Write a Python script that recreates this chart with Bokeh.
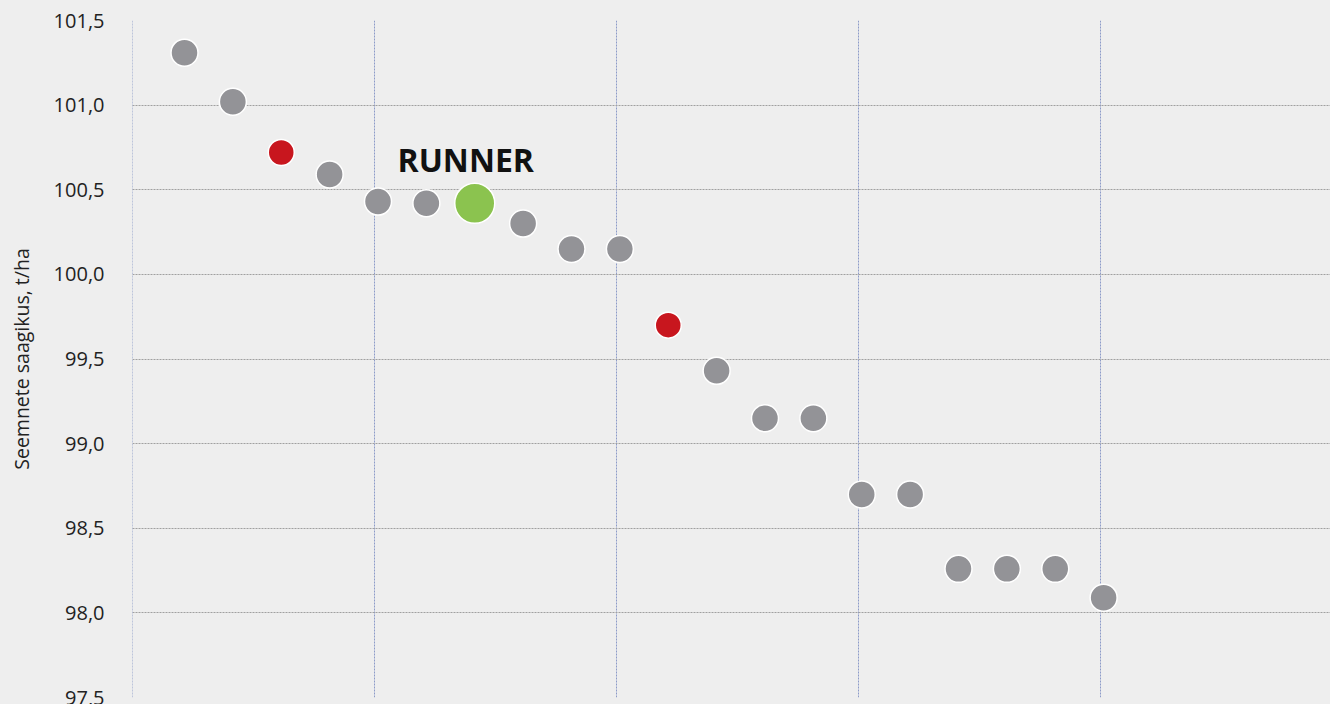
from bokeh.plotting import figure
from bokeh.models import ColumnDataSource, FixedTicker, CustomJSTickFormatter, Range1d
from bokeh.core.properties import value
from bokeh.embed import file_html
from bokeh.resources import INLINE

# ---- data ----
positions = list(range(1, 21))
yields = [101.31, 101.02, 100.72, 100.59, 100.43, 100.42, 100.42, 100.30, 100.15, 100.15,
          99.70, 99.43, 99.15, 99.15, 98.70, 98.70, 98.26, 98.26, 98.26, 98.09]
kinds = ["other", "other", "check", "other", "other", "other", "runner", "other", "other", "other",
         "check", "other", "other", "other", "other", "other", "other", "other", "other", "other"]
highlight_label = "RUNNER"
y_ticks = [97.5, 98.0, 98.5, 99.0, 99.5, 100.0, 100.5, 101.0, 101.5]
y_label = "Seemnete saagikus, t/ha"

# ---- styles ----
color_map = {"other": "#939397", "check": "#c8161e", "runner": "#8bc34f"}
size_map = {"other": 27, "check": 26, "runner": 40}
BG = "#eeeeee"
FONT = "Open Sans"

src = ColumnDataSource(dict(
    x=positions, y=yields,
    color=[color_map[k] for k in kinds],
    size=[size_map[k] for k in kinds],
))

p = figure(width=1330, height=704, output_backend="svg", toolbar_location=None,
           x_range=Range1d(-0.075, 24.69), y_range=Range1d(97.5, 101.5),
           min_border_left=132, min_border_right=0, min_border_top=20, min_border_bottom=7)
p.background_fill_color = BG
p.border_fill_color = BG
p.outline_line_color = None

p.scatter("x", "y", source=src, size="size", fill_color="color",
          line_color="white", line_width=1.5)

ri = kinds.index("runner")
p.text(x=[positions[ri]], y=[yields[ri]], text=[highlight_label],
       text_font=value(FONT), text_font_style="bold", text_font_size="32px",
       text_align="center", text_baseline="alphabetic", text_color="#111111",
       x_offset=-9, y_offset=-44)

# axes
p.xaxis.visible = False
p.xgrid.ticker = FixedTicker(ticks=[t - 0.07 for t in [0, 5, 10, 15, 20]])
p.xgrid.grid_line_color = "#8c9bc8"
p.xgrid.grid_line_dash = "2 1"
p.xgrid.grid_line_width = 1

yax = p.yaxis[0]
yax.ticker = FixedTicker(ticks=y_ticks)
yax.formatter = CustomJSTickFormatter(code="return tick.toFixed(1).replace('.', ',');")
yax.axis_line_color = None
yax.major_tick_line_color = None
yax.minor_tick_line_color = None
yax.major_tick_in = 0
yax.major_tick_out = 0
yax.major_label_standoff = 28
yax.major_label_text_font = FONT
yax.major_label_text_font_size = "20px"
yax.major_label_text_color = "#222222"
yax.axis_label = y_label
yax.axis_label_text_font = FONT
yax.axis_label_text_font_size = "19.5px"
yax.axis_label_text_font_style = "normal"
yax.axis_label_text_color = "#222222"
yax.axis_label_standoff = 16

p.ygrid.ticker = FixedTicker(ticks=y_ticks)
p.ygrid.grid_line_color = "#a0a0a0"
p.ygrid.grid_line_dash = "2 1"
p.ygrid.grid_line_width = 1

html = file_html(p, INLINE)
html = html.replace("<body>", "<body style=\"background:#eeeeee\">")
open("out.html", "w").write(html)
